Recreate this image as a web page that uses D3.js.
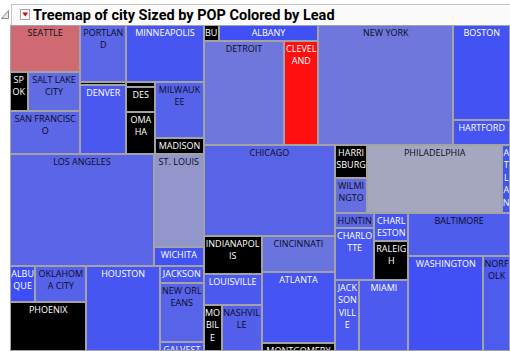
<!DOCTYPE html>
<html><head><meta charset="utf-8">
<script src="https://cdn.jsdelivr.net/npm/d3@7"></script>
<style>
html,body{margin:0;padding:0;background:#fff;}
svg{display:block;}
</style></head>
<body><svg id="chart" width="510" height="351"></svg>
<script>
// ---- data ----
const cities = ["SEATTLE","SPOKANE","SALT LAKE CITY","SAN FRANCISCO","PORTLAND","CHEYENNE","DENVER",
  "MINNEAPOLIS","SIOUX FALLS","DES MOINES","OMAHA","MILWAUKEE","MADISON","LOS ANGELES","ST. LOUIS","WICHITA",
  "ALBUQUERQUE","OKLAHOMA CITY","PHOENIX","HOUSTON","JACKSON","NEW ORLEANS","GALVESTON","BUFFALO","ALBANY",
  "DETROIT","CLEVELAND","NEW YORK","BOSTON","HARTFORD","CHICAGO","INDIANAPOLIS","LOUISVILLE","MOBILE",
  "NASHVILLE","CINCINNATI","ATLANTA","MONTGOMERY","HARRISBURG","WILMINGTON","PHILADELPHIA","ATLANTIC CITY",
  "HUNTINGTON","CHARLOTTE","CHARLESTON","RALEIGH","JACKSONVILLE","MIAMI","BALTIMORE","WASHINGTON","NORFOLK"];
const pop = [3285,672,2024,3040,2596,151,3126,
  4385,146,721,1219,2700,750,16029,4598,942,
  902,1826,3703,6187,724,2546,410,240,1590,
  8297,3509,16044,5322,1413,11874,2220,1786,812,
  1822,2635,5229,570,1062,1074,9140,507,
  582,2018,965,1320,1713,3448,4391,7050,2533];
const lead = [0.71,null,0.16,0.14,0.14,null,0.063,
  0.05,null,null,null,0.113,null,0.135,0.385,0.03,
  0.01,0.115,null,0.05,0.063,0.12,0.05,null,0.02,
  0.226,1.0,0.226,0.03,0.045,0.125,null,0.07,null,
  0.105,0.207,0.04,null,null,0.183,0.47,0.03,
  0.135,0.06,0.045,null,0.063,0.072,0.087,0.02,0.078];
// geographic grouping: "row" = members side by side, "col" = members stacked
const grouping = ["row", [
  ["col", [
    ["row", [
      ["col", ["SEATTLE", ["row", ["SPOKANE","SALT LAKE CITY"]], "SAN FRANCISCO"]],
      ["col", ["PORTLAND","CHEYENNE","DENVER"]],
      ["col", ["MINNEAPOLIS", ["row", [["col", ["SIOUX FALLS","DES MOINES","OMAHA"]], ["col", ["MILWAUKEE","MADISON"]]]]]]
    ]],
    ["row", ["LOS ANGELES", ["col", ["ST. LOUIS","WICHITA"]]]],
    ["row", [["col", [["row", ["ALBUQUERQUE","OKLAHOMA CITY"]], "PHOENIX"]], "HOUSTON", ["col", ["JACKSON","NEW ORLEANS","GALVESTON"]]]]
  ]],
  ["col", [
    ["row", [["col", [["row", ["BUFFALO","ALBANY"]], ["row", ["DETROIT","CLEVELAND"]]]], "NEW YORK", ["col", ["BOSTON","HARTFORD"]]]],
    ["row", [
      ["col", ["CHICAGO", ["row", [["col", ["INDIANAPOLIS","LOUISVILLE", ["row", ["MOBILE","NASHVILLE"]]]], ["col", ["CINCINNATI","ATLANTA","MONTGOMERY"]]]]]],
      ["col", [
        ["row", [["col", ["HARRISBURG","WILMINGTON"]], "PHILADELPHIA", "ATLANTIC CITY"]],
        ["row", [
          ["col", [["row", [["col", ["HUNTINGTON","CHARLOTTE"]], ["col", ["CHARLESTON","RALEIGH"]]]], ["row", ["JACKSONVILLE","MIAMI"]]]],
          ["col", ["BALTIMORE", ["row", ["WASHINGTON","NORFOLK"]]]]
        ]]
      ]]
    ]]
  ]]
]];
const titleText = "Treemap of city Sized by POP Colored by Lead";

// ---- build ----
const popOf = new Map(cities.map((c, i) => [c, pop[i]]));
const leadOf = new Map(cities.map((c, i) => [c, lead[i]]));
function build(n) {
  if (typeof n === "string") return {name: n, value: popOf.get(n), lead: leadOf.get(n)};
  return {dir: n[0], children: n[1].map(build)};
}
const root = d3.hierarchy(build(grouping)).sum(d => d.children ? 0 : d.value);
d3.treemap()
  .tile((node, x0, y0, x1, y1) => (node.data.dir === "row" ? d3.treemapDice : d3.treemapSlice)(node, x0, y0, x1, y1))
  .size([498, 324])
  .paddingInner(2)(root);

const color = d3.scaleLinear().domain([0, 0.5, 1]).range(["#3c4cf7", "#acacbc", "#ff0f0f"]);

const svg = d3.select("#chart");

// title bar
svg.append("rect").attr("x", 11.5).attr("y", 4.5).attr("width", 520).attr("height", 21)
  .attr("fill", "#fbfbfb").attr("stroke", "#c4c4c4");
svg.append("polygon").attr("points", "8.5,10.5 8.5,18.5 1.5,18.5")
  .attr("fill", "#e6e6e6").attr("stroke", "#8a8a8a");
svg.append("rect").attr("x", 20.5).attr("y", 9.5).attr("width", 9).attr("height", 10)
  .attr("fill", "#fdfdfd").attr("stroke", "#a4a4a4");
svg.append("polygon").attr("points", "22.3,12.4 28.2,12.4 25.25,16.6").attr("fill", "#e00000");
svg.append("text").attr("x", 33).attr("y", 20.3)
  .attr("font-family", "Roboto, 'Open Sans', sans-serif").attr("font-weight", "bold").attr("font-size", 14.5)
  .attr("fill", "#000").text(titleText);

// treemap frame
svg.append("rect").attr("x", 10).attr("y", 25).attr("width", 500).attr("height", 326).attr("fill", "#a3a3a3");

const g = svg.append("g").attr("transform", "translate(11,26)");
const FONT = "'Open Sans', sans-serif", FS = 9, LH = 12.6;
const meas = svg.append("text").attr("font-family", FONT).attr("font-size", FS).attr("visibility", "hidden");
const mw = s => { meas.text(s); return meas.node().getComputedTextLength() + 1.2 * (s.split(" ").length - 1); };
function wrap(str, maxW) {
  const lines = []; let cur = "";
  for (const ch of str) {
    const t = cur + ch;
    if (cur.length && mw(t.trim()) > maxW) { lines.push(cur.trim()); cur = ch === " " ? "" : ch; }
    else cur = t;
  }
  if (cur.trim()) lines.push(cur.trim());
  return lines;
}
const R = Math.round;
const leaves = root.leaves();
const cell = g.selectAll("g.cell").data(leaves).join("g").attr("class", "cell");
cell.append("rect").attr("x", d => R(d.x0)).attr("y", d => R(d.y0))
  .attr("width", d => Math.max(1, R(d.x1) - R(d.x0))).attr("height", d => Math.max(1, R(d.y1) - R(d.y0)))
  .attr("fill", d => d.data.lead == null ? "#000" : color(d.data.lead));
cell.filter(d => d.y1 - d.y0 >= 4).each(function(d) {
  const w = d.x1 - d.x0, h = d.y1 - d.y0;
  const lines = wrap(d.data.name, w).filter((s, k) => k === 0 || 2 + (k + 1) * LH <= h + 2);
  const L = d.data.lead;
  const fill = (L == null || L < 0.075 || L > 0.9) ? "#ffffff" : "#0c0c20";
  const sel = d3.select(this);
  const id = "clip" + cities.indexOf(d.data.name);
  sel.append("clipPath").attr("id", id).append("rect")
    .attr("x", R(d.x0)).attr("y", R(d.y0)).attr("width", R(d.x1) - R(d.x0)).attr("height", R(d.y1) - R(d.y0));
  const t = sel.append("text").attr("clip-path", `url(#${id})`)
    .attr("font-family", FONT).attr("font-size", FS).attr("text-anchor", "middle").attr("fill", fill);
  lines.forEach((s, k) => t.append("tspan").attr("x", (d.x0 + d.x1) / 2).attr("y", R(d.y0) + 9.5 + k * LH).text(s));
});
meas.remove();
</script></body></html>
